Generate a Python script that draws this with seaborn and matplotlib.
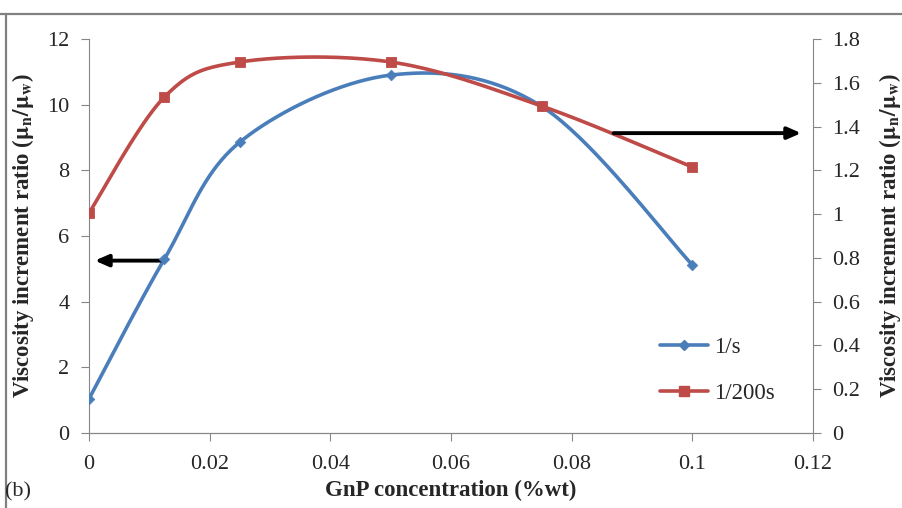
import numpy as np
import pandas as pd
import matplotlib
matplotlib.use("Agg")
import matplotlib.pyplot as plt
from matplotlib.lines import Line2D
import seaborn as sns

conc = [0.0, 0.0125, 0.025, 0.05, 0.075, 0.1]
ratio_1s = [1.04, 5.3, 8.86, 10.9, 9.95, 5.12]
ratio_200s = [1.005, 1.535, 1.695, 1.695, 1.494, 1.215]
x_ticks = [0, 0.02, 0.04, 0.06, 0.08, 0.1, 0.12]
x_labels = ["0", "0.02", "0.04", "0.06", "0.08", "0.1", "0.12"]
left_ticks = [0, 2, 4, 6, 8, 10, 12]
right_ticks = [0, 0.2, 0.4, 0.6, 0.8, 1.0, 1.2, 1.4, 1.6, 1.8]
right_labels = ["0", "0.2", "0.4", "0.6", "0.8", "1", "1.2", "1.4", "1.6", "1.8"]

sns.set_style("white")
plt.rcParams['font.family'] = ['Liberation Serif', 'DejaVu Serif']
plt.rcParams['mathtext.fontset'] = 'stix'

BLUE = "#4A7EBB"
RED = "#BE4B48"
GRAY = "#868686"


def smooth(xs, ys, xspan, yspan, n=40):
    # Excel-like Catmull-Rom Bezier smoothing in normalized display space
    P = np.column_stack([np.array(xs) / xspan * 724, np.array(ys) / yspan * 394])
    out = []
    for i in range(len(P) - 1):
        p0 = P[i - 1] if i > 0 else P[i]
        p1, p2 = P[i], P[i + 1]
        p3 = P[i + 2] if i + 2 < len(P) else P[i + 1]
        c1 = p1 + (p2 - p0) / 6
        c2 = p2 - (p3 - p1) / 6
        t = np.linspace(0, 1, n)[:, None]
        seg = ((1 - t) ** 3) * p1 + 3 * ((1 - t) ** 2) * t * c1 + 3 * (1 - t) * t ** 2 * c2 + t ** 3 * p2
        out.append(seg if i == 0 else seg[1:])
    S = np.vstack(out)
    return S[:, 0] * xspan / 724, S[:, 1] * yspan / 394


fig = plt.figure(figsize=(9.02, 5.08), dpi=100)
ax = fig.add_axes([89 / 902, 1 - 433 / 508, 724 / 902, 394 / 508])
ax2 = ax.twinx()

bx, by = smooth(conc, ratio_1s, 0.12, 12)
rx, ry = smooth(conc, ratio_200s, 0.12, 1.8)
sns.lineplot(x=bx, y=by, ax=ax, color=BLUE, lw=2.6, sort=False, estimator=None)
sns.scatterplot(x=conc, y=ratio_1s, ax=ax, color=BLUE, marker="D", s=30, edgecolor=BLUE, zorder=5)
sns.lineplot(x=rx, y=ry, ax=ax2, color=RED, lw=2.6, sort=False, estimator=None)
sns.scatterplot(x=conc, y=ratio_200s, ax=ax2, color=RED, marker="s", s=55, edgecolor=RED, zorder=5)

ax.set_xlim(0, 0.12)
ax.set_ylim(0, 12)
ax2.set_ylim(0, 1.8)
ax.set_xticks(x_ticks)
ax.set_xticklabels(x_labels)
ax.set_yticks(left_ticks)
ax.set_yticklabels([str(v) for v in left_ticks])
ax2.set_yticks(right_ticks)
ax2.set_yticklabels(right_labels)

for a in (ax, ax2):
    for s in a.spines.values():
        s.set_visible(False)
    a.spines['bottom'].set_visible(True)
    a.spines['bottom'].set_color(GRAY)
ax.spines['left'].set_visible(True)
ax.spines['left'].set_color(GRAY)
ax2.spines['right'].set_visible(True)
ax2.spines['right'].set_color(GRAY)

ax.tick_params(axis='both', which='both', direction='out', length=6, color=GRAY,
               labelsize=16, left=True, bottom=True, pad=8)
ax2.tick_params(axis='y', direction='out', length=6, color=GRAY, labelsize=16, right=True, pad=8)
ax.tick_params(axis='x', pad=10)

ax.set_xlabel("GnP concentration (%wt)", fontsize=16.5, fontweight='bold', labelpad=4)
ax.set_ylabel(r"Viscosity increment ratio ($\mathbf{\mu_n/\mu_w}$)", fontsize=16.5, fontweight='bold', labelpad=8)
ax2.set_ylabel(r"Viscosity increment ratio ($\mathbf{\mu_n/\mu_w}$)", fontsize=16.5, fontweight='bold', labelpad=12)

# arrows
ax.annotate("", xy=(0.0005, 5.25), xytext=(0.0125, 5.25), xycoords='data',
            arrowprops=dict(arrowstyle="-|>,head_length=0.8,head_width=0.35", color="black", lw=2.8))
ax2.annotate("", xy=(0.1185, 1.37), xytext=(0.0865, 1.37), xycoords='data',
             arrowprops=dict(arrowstyle="-|>,head_length=0.8,head_width=0.35", color="black", lw=2.8))

handles = [Line2D([], [], color=BLUE, lw=2.6, marker="D", markersize=5),
           Line2D([], [], color=RED, lw=2.6, marker="s", markersize=7)]
ax.legend(handles, ["1/s", "1/200s"], loc='upper left', bbox_to_anchor=(0.76, 0.295),
          frameon=False, fontsize=16.5, handlelength=2.1, labelspacing=1.05, handletextpad=0.25)

fig.text(5 / 902, 1 - 492 / 508, "(b)", fontsize=16, va='center', ha='left')

# frame border lines (top and left)
fig.add_artist(Line2D([0, 1], [1 - 14 / 508, 1 - 14 / 508], transform=fig.transFigure, color="#808080", lw=1.6))
fig.add_artist(Line2D([6 / 902, 6 / 902], [0, 1 - 14 / 508], transform=fig.transFigure, color="#808080", lw=1.6))

fig.savefig("out.png", dpi=100)
